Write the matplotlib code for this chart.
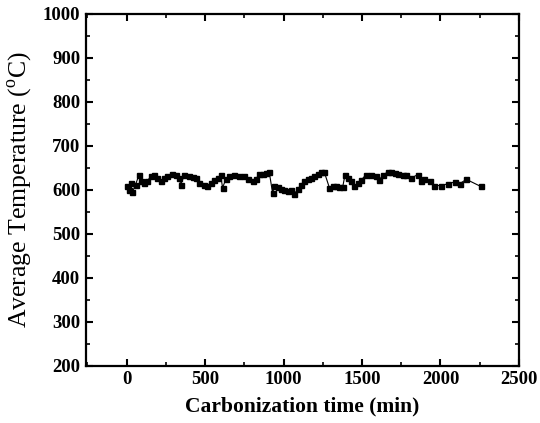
import matplotlib
matplotlib.use("Agg")
import matplotlib.pyplot as plt
from matplotlib.ticker import MultipleLocator

time_min = [0, 15, 26, 36, 57, 79, 89, 110, 132, 153, 174, 196, 217, 238, 260, 292,
            313, 334, 345, 366, 398, 420, 440, 462, 494, 515, 536, 558, 579, 600, 611,
            632, 653, 685, 717, 749, 771, 803, 824, 845, 867, 888, 909, 930, 941, 962,
            983, 1005, 1026, 1047, 1068, 1090, 1111, 1132, 1154, 1175, 1196, 1218, 1239,
            1260, 1292, 1313, 1335, 1356, 1377, 1392, 1409, 1430, 1452, 1473, 1494, 1526,
            1558, 1590, 1611, 1632, 1665, 1686, 1707, 1729, 1761, 1782, 1814, 1856, 1877,
            1898, 1931, 1958, 2005, 2048, 2090, 2122, 2165, 2256]
temp_c = [608, 599, 616, 595, 612, 635, 620, 616, 620, 631, 635, 627, 620, 627, 631, 637,
          635, 627, 612, 633, 631, 630, 627, 616, 612, 610, 616, 622, 627, 633, 605,
          624, 631, 635, 631, 631, 624, 620, 624, 637, 637, 639, 640, 593, 608, 607,
          602, 599, 597, 599, 591, 601, 612, 620, 625, 627, 631, 637, 640,
          640, 605, 610, 608, 607, 607, 635, 627, 620, 608, 616, 622, 635,
          635, 631, 622, 635, 640, 640, 639, 637, 635, 633, 627, 635, 620,
          624, 620, 610, 610, 614, 618, 614, 624, 608]

xlabel = "Carbonization time (min)"
ylabel = r"Average Temperature ($^{\mathrm{o}}$C)"

plt.rcParams['font.family'] = ['Liberation Serif', 'DejaVu Serif']
plt.rcParams['mathtext.fontset'] = 'custom'
plt.rcParams['mathtext.rm'] = 'Liberation Serif'

fig = plt.figure(figsize=(5.4, 4.23), dpi=100)
ax = fig.add_axes([0.159, 0.135, 0.802, 0.832])

ax.plot(time_min, temp_c, color='black', lw=0.8, marker='s', ms=3.6,
        mfc='black', mec='black')

ax.set_xlim(-260, 2500)
ax.set_ylim(200, 1000)
ax.xaxis.set_major_locator(MultipleLocator(500))
ax.xaxis.set_minor_locator(MultipleLocator(250))
ax.yaxis.set_major_locator(MultipleLocator(100))
ax.yaxis.set_minor_locator(MultipleLocator(50))

ax.tick_params(which='both', direction='in', top=True, right=True)
ax.tick_params(which='major', length=5, width=1.5, labelsize=13.5, pad=4)
ax.tick_params(which='minor', length=3, width=1.2)
for lab in ax.get_xticklabels() + ax.get_yticklabels():
    lab.set_fontweight('bold')
for s in ax.spines.values():
    s.set_linewidth(1.6)

ax.set_xlabel(xlabel, fontsize=15.5, fontweight='bold', labelpad=6)
ax.set_ylabel(ylabel, fontsize=18.5, labelpad=6)

fig.savefig("out.png", dpi=100)
